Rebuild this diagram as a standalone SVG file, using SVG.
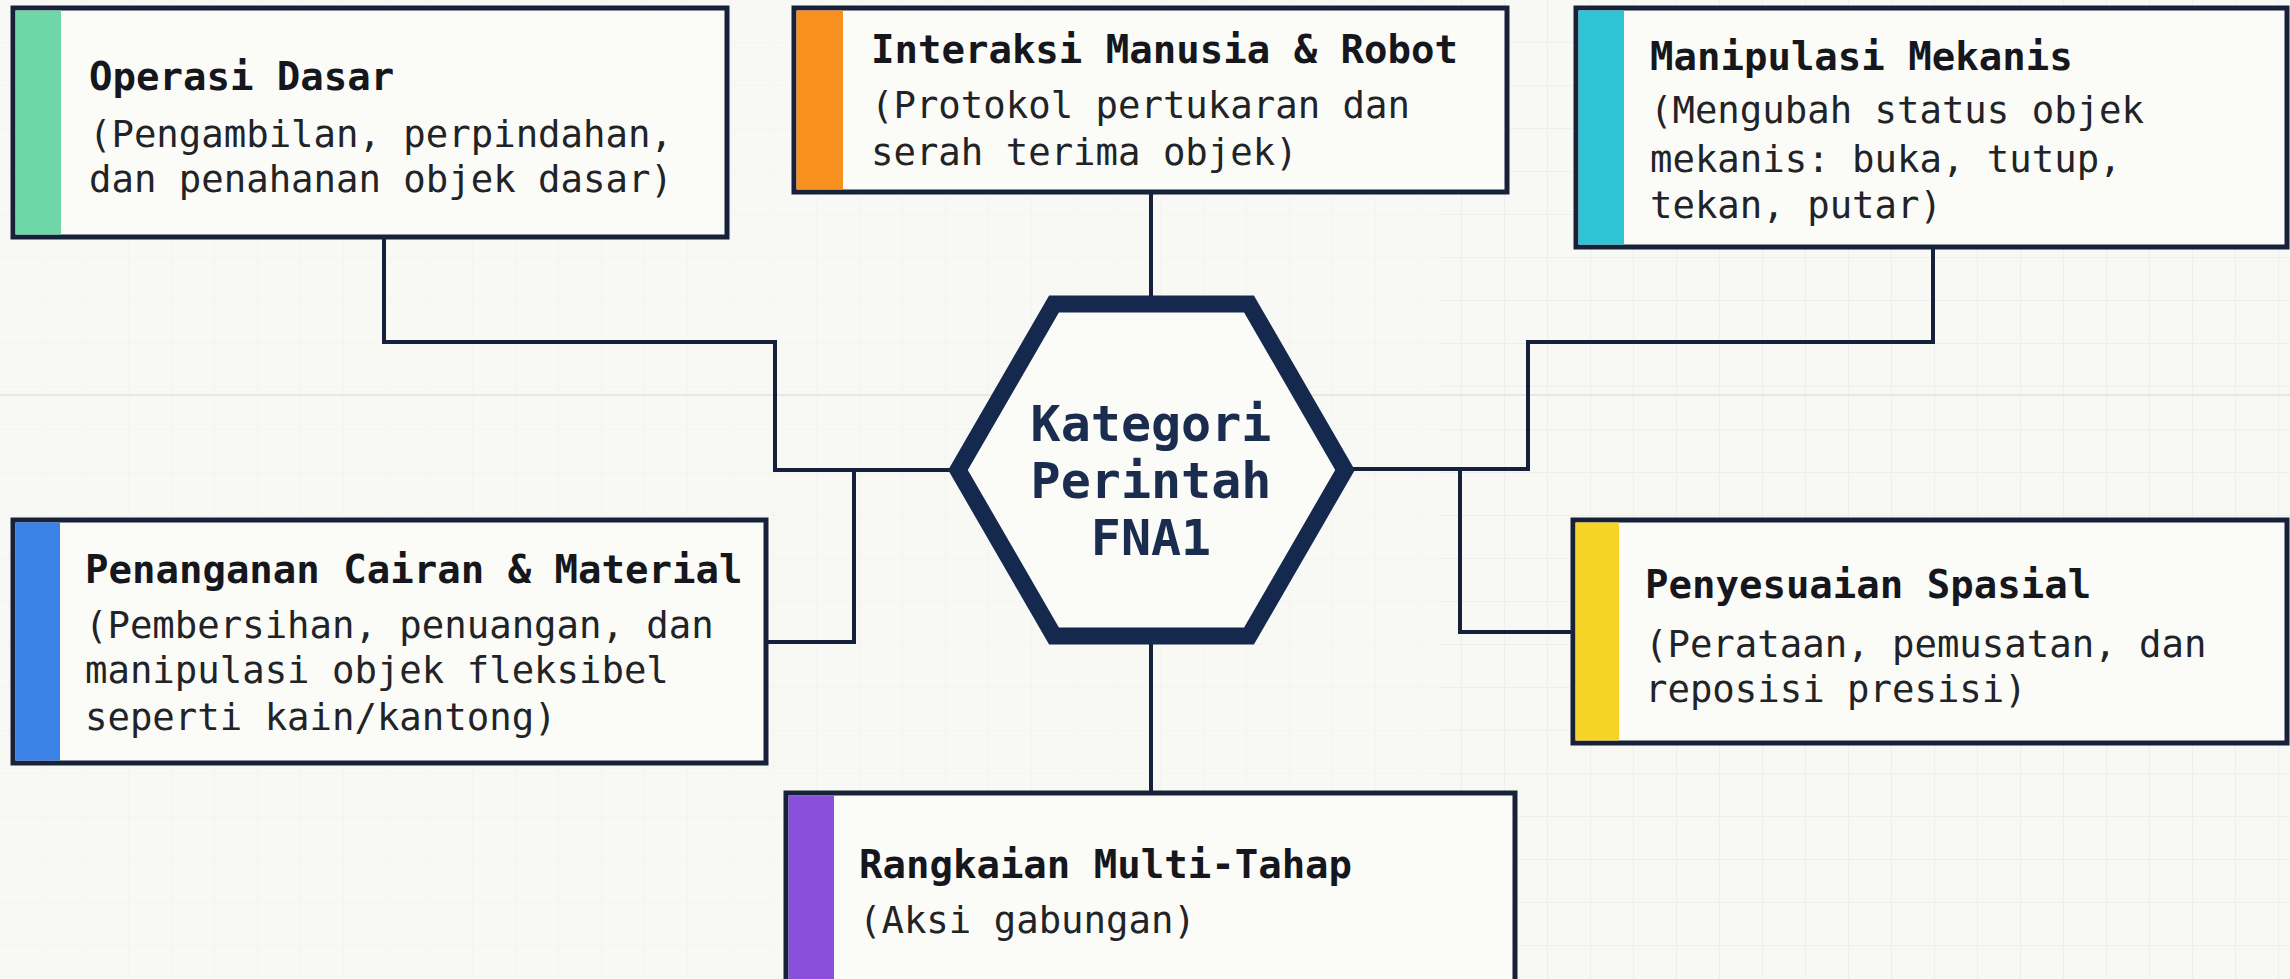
<svg xmlns="http://www.w3.org/2000/svg" width="2290" height="979" viewBox="0 0 2290 979">
<defs>
<pattern id="grid" width="43" height="43" patternUnits="userSpaceOnUse">
<path d="M43 0 V43 M0 43 H43" fill="none" stroke="#e9eded" stroke-width="1.5"/>
</pattern>
<style>
.box{fill:#fbfbf8;stroke:#18213a;stroke-width:5}
.ttl{font-family:"DejaVu Sans Mono","Liberation Mono",monospace;font-weight:bold;font-size:39px;fill:#15171c}
.sub{font-family:"DejaVu Sans Mono","Liberation Mono",monospace;font-size:37.3px;fill:#222327}
.hex{fill:#fbfbf8;stroke:#14294d;stroke-width:17;stroke-linejoin:miter}
.htxt{font-family:"DejaVu Sans Mono","Liberation Mono",monospace;font-weight:bold;font-size:50px;fill:#1b2d4f;text-anchor:middle}
.conn{fill:none;stroke:#15203a;stroke-width:4;stroke-linejoin:miter}
</style>
</defs>
<rect width="2290" height="979" fill="#f8f8f5"/>
<rect x="1440" y="0" width="850" height="979" fill="url(#grid)"/>
<rect x="0" y="0" width="1440" height="979" fill="url(#grid)" opacity="0.35"/>
<line x1="0" y1="395" x2="2290" y2="395" stroke="#e6e8e8" stroke-width="2"/>

<g id="connectors">
<path class="conn" d="M384,237 V342 H775 V470 H950"/>
<path class="conn" d="M766,642 H854 V470"/>
<path class="conn" d="M1151,192 V296"/>
<path class="conn" d="M1933,247 V342 H1528 V469 H1352"/>
<path class="conn" d="M1460,469 V632 H1573"/>
<path class="conn" d="M1151,644 V793"/>
</g>

<g id="center">
<polygon class="hex" points="958,470 1054,304 1249,304 1345,470 1249,636 1054,636"/>
<text class="htxt" x="1151" y="441">Kategori</text>
<text class="htxt" x="1151" y="498">Perintah</text>
<text class="htxt" x="1151" y="555">FNA1</text>
</g>

<g id="operasi-dasar">
<rect class="box" x="13" y="8" width="714" height="229"/>
<rect x="15.5" y="10.5" width="45.5" height="224" fill="#6fd6a8"/>
<text class="ttl" x="89" y="90">Operasi Dasar</text>
<text class="sub" x="89" y="147">(Pengambilan, perpindahan,</text>
<text class="sub" x="89" y="192">dan penahanan objek dasar)</text>
</g>

<g id="interaksi">
<rect class="box" x="794" y="8" width="713" height="184"/>
<rect x="796.5" y="10.5" width="46.5" height="179" fill="#f7901e"/>
<text class="ttl" x="871" y="63">Interaksi Manusia &amp; Robot</text>
<text class="sub" x="871" y="118">(Protokol pertukaran dan</text>
<text class="sub" x="871" y="165">serah terima objek)</text>
</g>

<g id="manipulasi">
<rect class="box" x="1576" y="8" width="711" height="239"/>
<rect x="1578.5" y="10.5" width="45.5" height="234" fill="#2ec4d6"/>
<text class="ttl" x="1650" y="70">Manipulasi Mekanis</text>
<text class="sub" x="1650" y="123">(Mengubah status objek</text>
<text class="sub" x="1650" y="172">mekanis: buka, tutup,</text>
<text class="sub" x="1650" y="218">tekan, putar)</text>
</g>

<g id="cairan">
<rect class="box" x="13" y="520" width="753" height="243"/>
<rect x="15.5" y="522.5" width="44.5" height="238" fill="#3b82e6"/>
<text class="ttl" x="85" y="583">Penanganan Cairan &amp; Material</text>
<text class="sub" x="85" y="638">(Pembersihan, penuangan, dan</text>
<text class="sub" x="85" y="683">manipulasi objek fleksibel</text>
<text class="sub" x="85" y="730">seperti kain/kantong)</text>
</g>

<g id="spasial">
<rect class="box" x="1573" y="520" width="714" height="223"/>
<rect x="1575.5" y="522.5" width="43.5" height="218" fill="#f5d327"/>
<text class="ttl" x="1645" y="598">Penyesuaian Spasial</text>
<text class="sub" x="1645" y="657">(Perataan, pemusatan, dan</text>
<text class="sub" x="1645" y="702">reposisi presisi)</text>
</g>

<g id="multi-tahap">
<rect class="box" x="786" y="793" width="729" height="200"/>
<rect x="788.5" y="795.5" width="45.5" height="195" fill="#8a4fdb"/>
<text class="ttl" x="859" y="878">Rangkaian Multi-Tahap</text>
<text class="sub" x="859" y="933">(Aksi gabungan)</text>
</g>
</svg>
